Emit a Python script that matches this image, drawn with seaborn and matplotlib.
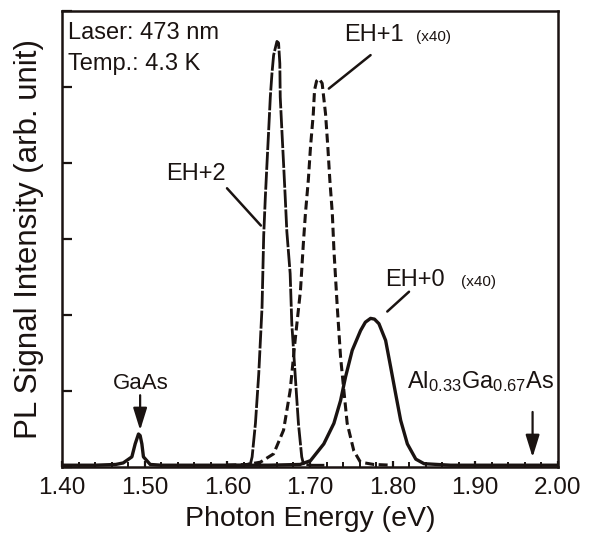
import matplotlib
matplotlib.use("Agg")
import matplotlib.pyplot as plt
import matplotlib.ticker as mticker
import pandas as pd
import seaborn as sns

# values (photon energy in eV, intensity in y-tick units)
EH2_ENERGY = [1.600, 1.620, 1.628, 1.630, 1.634, 1.638, 1.642, 1.644, 1.646, 1.648,
              1.650, 1.652, 1.654, 1.656, 1.660, 1.662, 1.6635, 1.664, 1.666, 1.668,
              1.670, 1.672, 1.676, 1.678, 1.682, 1.686, 1.690, 1.692, 1.700, 1.720]
EH2_SIGNAL = [0.03, 0.03, 0.05, 0.14, 0.58, 1.23, 2.11, 3.05, 3.56, 4.00,
              4.43, 4.87, 5.18, 5.42, 5.60, 5.58, 5.31, 4.87, 4.43, 4.00,
              3.56, 3.10, 2.55, 1.89, 1.23, 0.58, 0.14, 0.05, 0.03, 0.03]

EH1_ENERGY = [1.600, 1.624, 1.640, 1.656, 1.668, 1.676, 1.682, 1.6885, 1.692, 1.6945,
              1.698, 1.7006, 1.704, 1.7055, 1.708, 1.711, 1.7147, 1.7188, 1.7216, 1.724,
              1.727, 1.729, 1.733, 1.737, 1.741, 1.745, 1.753, 1.761, 1.777, 1.800]
EH1_SIGNAL = [0.03, 0.04, 0.07, 0.18, 0.49, 1.01, 1.67, 2.33, 2.95, 3.34,
              3.78, 4.21, 4.65, 4.96, 5.08, 5.11, 5.05, 4.65, 4.21, 3.78,
              3.34, 2.85, 2.11, 1.45, 1.01, 0.58, 0.22, 0.07, 0.04, 0.03]

EH0_ENERGY = [1.400, 1.440, 1.465, 1.474, 1.4845, 1.4885, 1.4925, 1.4945, 1.4966, 1.4985,
              1.5067, 1.520, 1.560, 1.600, 1.650, 1.688, 1.7006, 1.7167, 1.7289, 1.737,
              1.743, 1.7511, 1.7612, 1.767, 1.7733, 1.778, 1.7834, 1.7915, 1.7976, 1.8036,
              1.8097, 1.8178, 1.828, 1.838, 1.870, 1.920, 1.960, 2.000]
EH0_SIGNAL = [0.03, 0.03, 0.04, 0.06, 0.14, 0.31, 0.44, 0.42, 0.31, 0.14,
              0.04, 0.03, 0.03, 0.03, 0.03, 0.04, 0.09, 0.31, 0.58, 0.88,
              1.19, 1.54, 1.80, 1.91, 1.96, 1.95, 1.89, 1.67, 1.32, 0.97,
              0.62, 0.31, 0.11, 0.05, 0.03, 0.03, 0.03, 0.03]

X_TICKS = [1.40, 1.50, 1.60, 1.70, 1.80, 1.90, 2.00]
Y_TICKS = [0, 1, 2, 3, 4, 5, 6]

FONT = ["Liberation Sans", "DejaVu Sans"]
INK = "#1a1311"


def main() -> None:
    sns.set_theme(style="white")
    plt.rcParams["font.family"] = FONT
    plt.rcParams["mathtext.default"] = "regular"
    plt.rcParams["lines.scale_dashes"] = False

    fig = plt.figure(figsize=(5.89, 5.36), dpi=100)
    ax = fig.add_axes([0.1053, 0.1278, 0.842, 0.8517])

    eh2 = pd.DataFrame({"energy": EH2_ENERGY, "signal": EH2_SIGNAL})
    eh1 = pd.DataFrame({"energy": EH1_ENERGY, "signal": EH1_SIGNAL})
    eh0 = pd.DataFrame({"energy": EH0_ENERGY, "signal": EH0_SIGNAL})

    sns.lineplot(data=eh2, x="energy", y="signal", color=INK, lw=2.0,
                 estimator=None, sort=False, ax=ax)
    ax.lines[-1].set_dashes([13, 1.3])
    sns.lineplot(data=eh1, x="energy", y="signal", color=INK, lw=2.2,
                 estimator=None, sort=False, ax=ax)
    ax.lines[-1].set_dashes([6.5, 3.2])
    sns.lineplot(data=eh0, x="energy", y="signal", color=INK, lw=2.4,
                 estimator=None, sort=False, ax=ax)

    ax.set_xlim(1.40, 2.00)
    ax.set_ylim(0, 6)
    ax.set_xticks(X_TICKS)
    ax.xaxis.set_major_formatter(mticker.FormatStrFormatter("%.2f"))
    ax.xaxis.set_minor_locator(mticker.MultipleLocator(0.02))
    ax.set_yticks(Y_TICKS)
    ax.set_yticklabels([])
    ax.tick_params(axis="x", which="major", direction="in", length=4.5, width=1.6,
                   pad=7, labelsize=17.5, colors=INK, bottom=True)
    ax.tick_params(axis="x", which="minor", direction="in", length=3.5, width=1.4,
                   colors=INK, bottom=True)
    ax.tick_params(axis="y", direction="in", length=7, width=1.6,
                   colors=INK, left=True)
    for spine in ax.spines.values():
        spine.set_linewidth(1.8)
        spine.set_color(INK)

    ax.set_xlabel("Photon Energy (eV)", fontsize=20.5, color=INK)
    ax.xaxis.set_label_coords(0.501, -0.085)
    ax.set_ylabel("PL Signal Intensity (arb. unit)", fontsize=22.5, color=INK)
    ax.yaxis.set_label_coords(-0.036, 0.5)

    txt = dict(color=INK, fontsize=17)
    small = dict(color=INK, fontsize=11)
    ax.text(0.012, 0.939, "Laser: 473 nm", transform=ax.transAxes,
            ha="left", va="baseline", **txt)
    ax.text(0.012, 0.871, "Temp.: 4.3 K", transform=ax.transAxes,
            ha="left", va="baseline", **txt)

    ax.text(1.526, 3.78, "EH+2", ha="left", va="baseline", **txt)
    ax.plot([1.5996, 1.6406], [3.67, 3.18], color=INK, lw=1.8)

    ax.text(1.741, 5.60, "EH+1", ha="left", va="baseline", **txt)
    ax.text(1.8279, 5.60, "(x40)", ha="left", va="baseline", **small)
    ax.plot([1.7733, 1.7228], [5.42, 4.98], color=INK, lw=1.8)

    ax.text(1.7915, 2.39, "EH+0", ha="left", va="baseline", **txt)
    ax.text(1.8824, 2.39, "(x40)", ha="left", va="baseline", **small)
    ax.plot([1.8198, 1.7935], [2.31, 2.05], color=INK, lw=1.8)

    ax.text(1.4958, 1.035, "GaAs", ha="center", va="baseline", color=INK, fontsize=16)
    arrow = dict(arrowstyle="-|>,head_length=0.9,head_width=0.28", color=INK,
                 lw=1.6, mutation_scale=15, shrinkA=0, shrinkB=0)
    ax.annotate("", xy=(1.4945, 0.49), xytext=(1.4945, 0.95), arrowprops=arrow)

    ax.text(1.8178, 1.04, "Al$_{0.33}$Ga$_{0.67}$As", ha="left", va="baseline", **txt)
    ax.annotate("", xy=(1.9693, 0.135), xytext=(1.9693, 0.73), arrowprops=arrow)

    fig.savefig("out.png", dpi=100)
    plt.close(fig)


if __name__ == "__main__":
    main()
